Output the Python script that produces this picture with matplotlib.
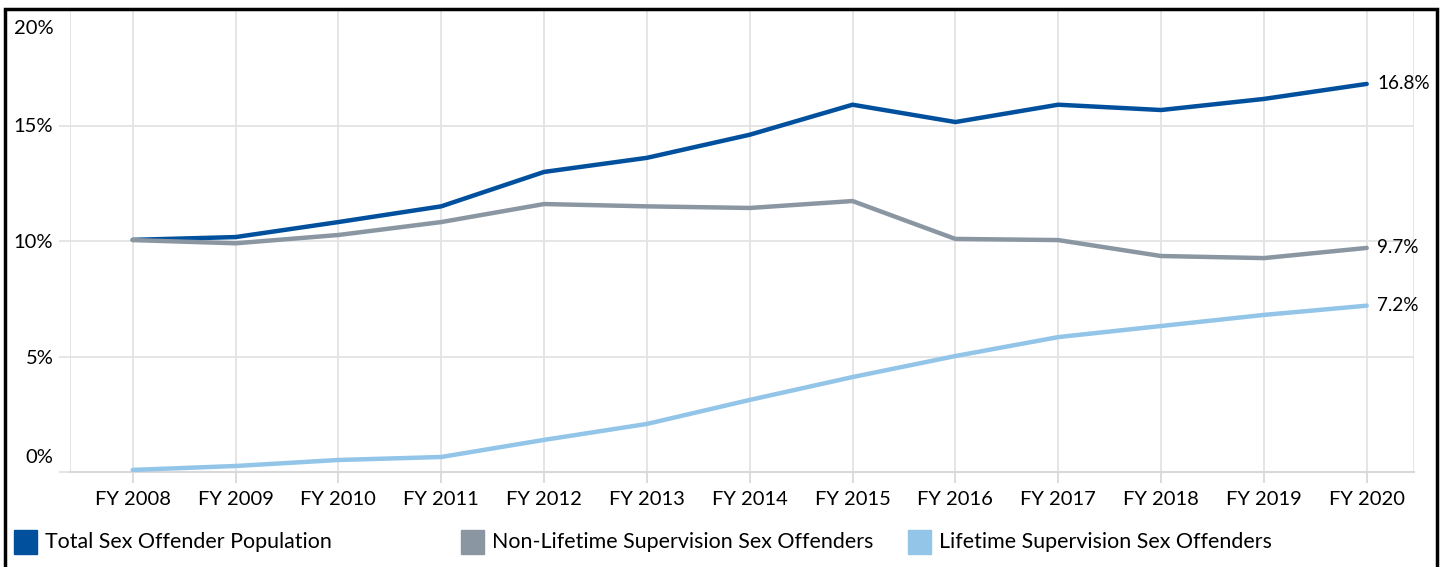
import matplotlib
matplotlib.use("Agg")
import matplotlib.pyplot as plt
from matplotlib.patches import Rectangle
import matplotlib.transforms as mtransforms

years = ["FY 2008", "FY 2009", "FY 2010", "FY 2011", "FY 2012", "FY 2013", "FY 2014",
         "FY 2015", "FY 2016", "FY 2017", "FY 2018", "FY 2019", "FY 2020"]
total = [10.05, 10.17, 10.82, 11.5, 12.99, 13.6, 14.6, 15.9, 15.15, 15.9, 15.67, 16.15, 16.8]
non_lifetime = [10.04, 9.9, 10.26, 10.82, 11.6, 11.5, 11.43, 11.73, 10.09, 10.04, 9.35, 9.26, 9.7]
lifetime = [0.09, 0.26, 0.52, 0.65, 1.39, 2.08, 3.12, 4.11, 5.02, 5.84, 6.32, 6.8, 7.2]

series_names = ["Total Sex Offender Population", "Non-Lifetime Supervision Sex Offenders",
                "Lifetime Supervision Sex Offenders"]
colors = ["#00509d", "#8a96a2", "#92c5e8"]
yticks = [0, 5, 10, 15, 20]

plt.rcParams["font.family"] = ["Lato", "DejaVu Sans"]

fig = plt.figure(figsize=(14.42, 5.67), dpi=100)
ax = fig.add_axes([70 / 1442, 1 - 472 / 567, (1414 - 70) / 1442, (472 - 10) / 567])

x = list(range(len(years)))
for vals, c in zip([total, non_lifetime, lifetime], colors):
    ax.plot(x, vals, color=c, lw=3.2, solid_capstyle="round", solid_joinstyle="round", zorder=3)
    ax.text(x[-1] + 0.1, vals[-1], f"{vals[-1]:.1f}%", va="center", ha="left", fontsize=13.6)

ax.set_xlim(-0.61, 12.46)
ax.set_ylim(0, 20)
ax.set_xticks(x)
ax.set_xticklabels(years, fontsize=14.5)
ax.set_yticks(yticks)
ax.set_yticklabels([f"{t}%" for t in yticks], fontsize=14.5)
ax.grid(True, color="#e3e3e3", lw=1.3)
ax.set_axisbelow(True)
for s in ["top", "right", "left"]:
    ax.spines[s].set_visible(False)
ax.spines["bottom"].set_color("#d9d9d9")
ax.spines["bottom"].set_linewidth(1.5)
ax.axvline(-0.61, color="#e3e3e3", lw=1.3, zorder=0)
ax.axvline(12.46, color="#e3e3e3", lw=1.3, zorder=0)
ax.tick_params(axis="x", length=8, color="#d9d9d9", width=1.3, pad=6)
ax.tick_params(axis="y", length=8, color="#e3e3e3", width=1.3, pad=4)

# the end labels of the value axis sit inside the plot area
labels = ax.get_yticklabels()
labels[0].set_transform(labels[0].get_transform() + mtransforms.ScaledTranslation(0, 16 / 100, fig.dpi_scale_trans))
labels[-1].set_transform(labels[-1].get_transform() + mtransforms.ScaledTranslation(0, -17 / 100, fig.dpi_scale_trans))

# legend
legend_x = [14, 461, 908]
for lx, name, c in zip(legend_x, series_names, colors):
    fig.patches.append(Rectangle((lx / 1442, 1 - 554 / 567), 23 / 1442, 24 / 567,
                                 transform=fig.transFigure, color=c))
    fig.text((lx + 31) / 1442, 1 - 542 / 567, name, fontsize=15.4, va="center", ha="left")

# outer frame
fig.patches.append(Rectangle((5 / 1442, -0.05), (1437 - 5) / 1442, 1.05 - 9 / 567,
                             transform=fig.transFigure, fill=False, ec="black", lw=2.5))

fig.savefig("out.png", dpi=100)
